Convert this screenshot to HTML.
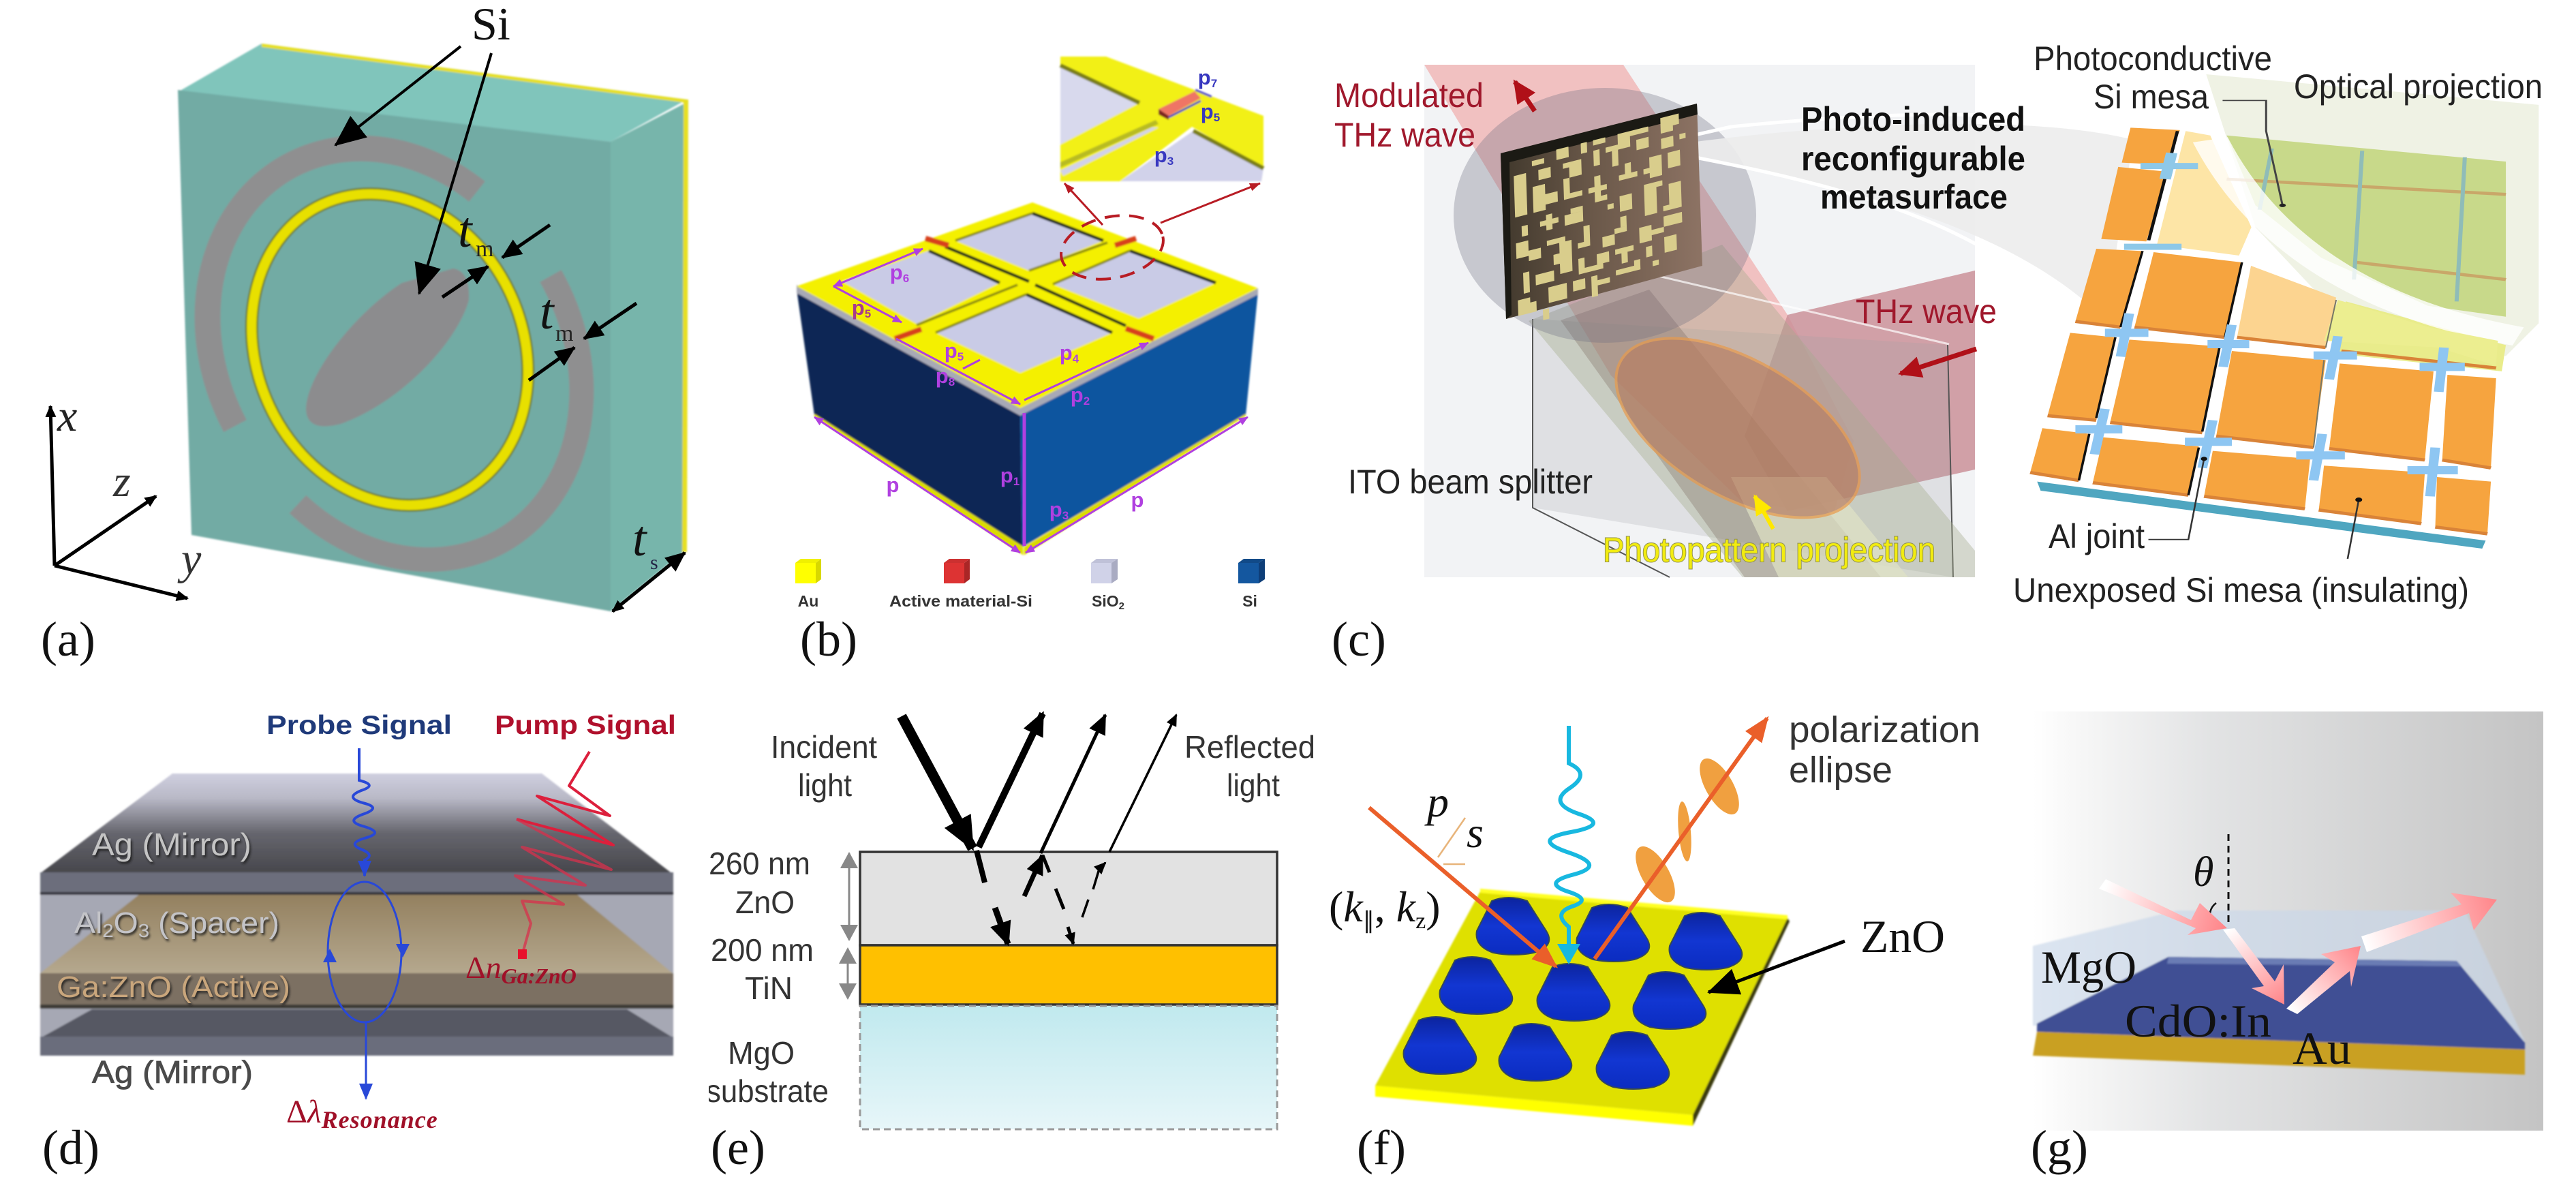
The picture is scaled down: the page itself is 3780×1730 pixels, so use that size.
<!DOCTYPE html>
<html><head><meta charset="utf-8"><style>
html,body{margin:0;padding:0;background:#fff;width:3780px;height:1730px;overflow:hidden}
svg{display:block}
text{font-family:"Liberation Sans",sans-serif}
.s{font-family:"Liberation Serif",serif}
.i{font-family:"Liberation Serif",serif;font-style:italic}
.b{font-weight:bold}
.lab{font-family:"Liberation Serif",serif;font-size:72px;fill:#111}
.pu{font-weight:bold;font-size:31px;fill:#b040e0}
</style></head><body>
<svg width="3780" height="1730" viewBox="0 0 3780 1730" xmlns="http://www.w3.org/2000/svg">
<defs>
<marker id="kL" markerUnits="userSpaceOnUse" markerWidth="46" markerHeight="40" viewBox="0 0 46 40" refX="44" refY="20" orient="auto"><path d="M0 0L46 20L0 40z" fill="#000"/></marker>
<marker id="kM" markerUnits="userSpaceOnUse" markerWidth="30" markerHeight="26" viewBox="0 0 30 26" refX="28" refY="13" orient="auto"><path d="M0 0L30 13L0 26z" fill="#000"/></marker>
<marker id="kS" markerUnits="userSpaceOnUse" markerWidth="18" markerHeight="16" viewBox="0 0 18 16" refX="16" refY="8" orient="auto"><path d="M0 0L18 8L0 16z" fill="#000"/></marker>
<marker id="kB" markerUnits="userSpaceOnUse" markerWidth="18" markerHeight="16" viewBox="0 0 18 16" refX="2" refY="8" orient="auto"><path d="M18 0L0 8L18 16z" fill="#000"/></marker>
<marker id="kE1" markerUnits="userSpaceOnUse" markerWidth="50" markerHeight="44" viewBox="0 0 50 44" refX="46" refY="22" orient="auto"><path d="M0 0L50 22L0 44z" fill="#000"/></marker>
<marker id="kE2" markerUnits="userSpaceOnUse" markerWidth="36" markerHeight="32" viewBox="0 0 36 32" refX="32" refY="16" orient="auto"><path d="M0 0L36 16L0 32z" fill="#000"/></marker>
<marker id="gr" markerUnits="userSpaceOnUse" markerWidth="24" markerHeight="26" viewBox="0 0 24 26" refX="22" refY="13" orient="auto"><path d="M0 0L24 13L0 26z" fill="#888"/></marker>
<marker id="pe" markerUnits="userSpaceOnUse" markerWidth="14" markerHeight="12" viewBox="0 0 14 12" refX="13" refY="6" orient="auto"><path d="M0 0L14 6L0 12z" fill="#b040e0"/></marker>
<marker id="pb" markerUnits="userSpaceOnUse" markerWidth="14" markerHeight="12" viewBox="0 0 14 12" refX="1" refY="6" orient="auto"><path d="M14 0L0 6L14 12z" fill="#b040e0"/></marker>
<marker id="re" markerUnits="userSpaceOnUse" markerWidth="16" markerHeight="12" viewBox="0 0 16 12" refX="15" refY="6" orient="auto"><path d="M0 0L16 6L0 12z" fill="#b81c24"/></marker>
<marker id="rb" markerUnits="userSpaceOnUse" markerWidth="34" markerHeight="32" viewBox="0 0 34 32" refX="30" refY="16" orient="auto"><path d="M0 0L34 16L0 32z" fill="#b01018"/></marker>
<marker id="ye" markerUnits="userSpaceOnUse" markerWidth="30" markerHeight="26" viewBox="0 0 30 26" refX="27" refY="13" orient="auto"><path d="M0 0L30 13L0 26z" fill="#ffe800"/></marker>
<marker id="bl" markerUnits="userSpaceOnUse" markerWidth="24" markerHeight="20" viewBox="0 0 24 20" refX="22" refY="10" orient="auto"><path d="M0 0L24 10L0 20z" fill="#2848d8"/></marker>
<marker id="or" markerUnits="userSpaceOnUse" markerWidth="38" markerHeight="30" viewBox="0 0 38 30" refX="34" refY="15" orient="auto"><path d="M0 0L38 15L0 30z" fill="#ea5f2a"/></marker>
<marker id="cy" markerUnits="userSpaceOnUse" markerWidth="30" markerHeight="34" viewBox="0 0 30 34" refX="26" refY="17" orient="auto"><path d="M0 0L30 17L0 34z" fill="#18b8e0"/></marker>
<linearGradient id="agT" x1="0" y1="0" x2="0" y2="1"><stop offset="0" stop-color="#cfcfdf"/><stop offset=".25" stop-color="#b8b8c6"/><stop offset=".6" stop-color="#66666e"/><stop offset="1" stop-color="#47474c"/></linearGradient>
<linearGradient id="tan" x1="0" y1="0" x2="0" y2="1"><stop offset="0" stop-color="#93805f"/><stop offset="1" stop-color="#b5a88e"/></linearGradient>
<linearGradient id="mgo" x1="0" y1="0" x2="0" y2="1"><stop offset="0" stop-color="#c0e9ee"/><stop offset="1" stop-color="#e7f6f9"/></linearGradient>
<linearGradient id="gbg" x1="0" y1="0" x2="1" y2="0"><stop offset="0" stop-color="#fff"/><stop offset=".1" stop-color="#f6f6f6"/><stop offset=".35" stop-color="#e2e3e4"/><stop offset="1" stop-color="#c4c4c4"/></linearGradient>
<linearGradient id="msb" x1="0" y1="0" x2="1" y2="0"><stop offset="0" stop-color="#40382c"/><stop offset=".45" stop-color="#6a5849"/><stop offset="1" stop-color="#8d7364"/></linearGradient>
<linearGradient id="pk1" gradientUnits="userSpaceOnUse" x1="3088" y1="1304" x2="3265" y2="1362"><stop offset="0" stop-color="#fff"/><stop offset="1" stop-color="#ff8589"/></linearGradient>
<linearGradient id="pk2" gradientUnits="userSpaceOnUse" x1="3270" y1="1364" x2="3352" y2="1472"><stop offset="0" stop-color="#fff"/><stop offset="1" stop-color="#ff8589"/></linearGradient>
<linearGradient id="pk3" gradientUnits="userSpaceOnUse" x1="3364" y1="1484" x2="3464" y2="1390"><stop offset="0" stop-color="#fff"/><stop offset="1" stop-color="#ff8589"/></linearGradient>
<linearGradient id="pk4" gradientUnits="userSpaceOnUse" x1="3470" y1="1385" x2="3664" y2="1320"><stop offset="0" stop-color="#fff"/><stop offset="1" stop-color="#ff8589"/></linearGradient>
<linearGradient id="drop" x1="0" y1="0" x2="0" y2="1"><stop offset="0" stop-color="#0c249e"/><stop offset=".5" stop-color="#1236d2"/><stop offset="1" stop-color="#0b2cc0"/></linearGradient>
<filter id="b1" x="-5%" y="-5%" width="110%" height="110%"><feGaussianBlur stdDeviation="1.2"/></filter>
<filter id="sh" x="-5%" y="-20%" width="110%" height="140%"><feDropShadow dx="2" dy="3" stdDeviation="1.5" flood-color="#1a1a1a" flood-opacity=".9"/></filter>
<path id="drp" d="M-32-36Q-8-46 20-36L48 8Q62 30 30 40Q0 46-30 40Q-58 30-54 8z" stroke="#33485a" stroke-width="2"/>
</defs>

<!-- (a) -->
<g filter="url(#b1)">
<path d="M261 135L384 64L1008 146L896 208z" fill="#80c5bb"/>
<path d="M261 132L896 208L896 897L281 785z" fill="#72aba4"/>
<path d="M896 208L1008 150L1005 808L896 897z" fill="#77b5ab"/>
<path d="M384 64L1008 146L1008 151L384 69z" fill="#e6df20"/>
<path d="M1003 146H1010L1008 810H1001z" fill="#e6df20"/>
<path d="M345 625A252 302 -28.6 0 1 700 281" fill="none" stroke="#8f8f90" stroke-width="38"/>
<path d="M808 405A252 302 -28.6 0 1 437 740" fill="none" stroke="#8f8f90" stroke-width="36"/>
<path d="M590 415L665 394Q690 398 688 440C672 500 590 590 500 622Q450 635 449 600C450 550 520 460 590 415Z" fill="#8c8c8e"/>
<ellipse cx="572" cy="513" rx="195" ry="235" transform="rotate(-25 572 513)" fill="none" stroke="#6d7b1f" stroke-width="19"/>
<ellipse cx="572" cy="513" rx="195" ry="235" transform="rotate(-25 572 513)" fill="none" stroke="#e8e000" stroke-width="14"/>
</g>
<g fill="none" stroke="#000">
<line x1="676" y1="68" x2="492" y2="213" stroke-width="4" marker-end="url(#kL)"/>
<line x1="721" y1="78" x2="615" y2="431" stroke-width="4" marker-end="url(#kL)"/>
<line x1="807" y1="330" x2="737" y2="378" stroke-width="5" marker-end="url(#kM)"/>
<line x1="649" y1="436" x2="716" y2="391" stroke-width="5" marker-end="url(#kM)"/>
<line x1="934" y1="445" x2="857" y2="497" stroke-width="5" marker-end="url(#kM)"/>
<line x1="776" y1="558" x2="843" y2="510" stroke-width="5" marker-end="url(#kM)"/>
<line x1="899" y1="897" x2="1005" y2="811" stroke-width="5" marker-end="url(#kM)" marker-start="url(#kB)"/>
<line x1="80" y1="830" x2="74" y2="596" stroke-width="5" marker-end="url(#kS)"/>
<line x1="80" y1="830" x2="229" y2="728" stroke-width="5" marker-end="url(#kS)"/>
<line x1="80" y1="830" x2="275" y2="878" stroke-width="5" marker-end="url(#kS)"/>
</g>
<text class="s" x="692" y="58" font-size="68" fill="#111">Si</text>
<text class="i" x="84" y="632" font-size="66" fill="#222">x</text>
<text class="i" x="166" y="728" font-size="66" fill="#333">z</text>
<text class="i" x="266" y="842" font-size="66" fill="#333">y</text>
<text class="i" x="672" y="362" font-size="74" fill="#111">t</text><text class="s" x="698" y="376" font-size="34" fill="#222">m</text>
<text class="i" x="792" y="482" font-size="74" fill="#111">t</text><text class="s" x="815" y="500" font-size="34" fill="#222">m</text>
<text class="i" x="928" y="815" font-size="74" fill="#111">t</text><text class="s" x="954" y="835" font-size="30" fill="#224">s</text>
<text class="lab" x="60" y="962">(a)</text>

<!-- (b) -->
<g filter="url(#b1)">
<path d="M1169 425L1497 606L1500 803L1195 609z" fill="#0c2754"/>
<path d="M1497 606L1846 428L1828 609L1500 803z" fill="#0f559f"/>
<path d="M1169 418L1497 597L1846 423L1846 432L1497 610L1169 430z" fill="#a7a9b6"/>
<path d="M1169 420L1515 297L1846 423L1497 599z" fill="#f4f000"/>
<path d="M1195 609L1500 803L1500 812zM1828 609L1504 803L1504 812z" fill="#d8d800" stroke="#e0e000" stroke-width="3"/>
<g fill="#c9cbe6"><path d="M1373 488L1506 432L1632 488L1497 547z"/><path d="M1236 413L1363 368L1467 415L1345 475z"/><path d="M1402 353L1515 313L1619 353L1510 397z"/><path d="M1545 417L1658 368L1784 415L1671 467z"/></g>
<g stroke="#1c2a18" stroke-width="4.500" fill="none"><path d="M1387 362L1510 413"/><path d="M1515 313L1619 353"/><path d="M1506 432L1632 488"/><path d="M1519 418L1652 478"/><path d="M1658 368L1784 415"/><path d="M1363 368L1467 415"/></g>
<g stroke="#8a8a10" stroke-width="3.500" fill="none"><path d="M1373 488L1506 432"/><path d="M1402 353L1515 313"/><path d="M1545 417L1658 368"/><path d="M1345 477L1493 418"/><path d="M1510 397L1625 356"/></g>
<g stroke="#d8401c" stroke-width="8"><path d="M1358 350L1392 360"/><path d="M1636 360L1667 350"/><path d="M1313 497L1352 483"/><path d="M1652 482L1693 497"/></g>
<path d="M1556 83L1623 83L1854 170L1854 247L1749 186L1644 266L1556 266z" fill="#f2f016"/>
<path d="M1556 96L1672 151L1556 212z" fill="#d8d9ed"/>
<path d="M1751 192L1854 247L1851 266L1644 266z" fill="#d1d2ea"/>
<path d="M1556 244L1696 180L1745 185L1619 262L1556 262z" fill="#f2f016"/>
<path d="M1556 238L1696 176L1700 182L1556 246z" fill="#b8bb20"/>
<path d="M1556 250L1690 187L1700 187L1560 258z" fill="#d1d2ea"/>
<path d="M1556 96L1672 151M1751 192L1854 247" stroke="#7c7f14" stroke-width="6"/>
<path d="M1700 160L1753 134L1762 144L1715 170z" fill="#ef7565"/><path d="M1700 160L1715 170L1715 176L1700 168z" fill="#7a2020"/>
<path d="M1754 132L1778 142M1715 172L1762 148" stroke="#3830c8" stroke-width="3"/>
</g>
<ellipse cx="1632" cy="363" rx="76" ry="45" transform="rotate(-12 1632 363)" fill="none" stroke="#b81c24" stroke-width="4" stroke-dasharray="22 14"/>
<line x1="1618" y1="330" x2="1562" y2="269" stroke="#b81c24" stroke-width="3" marker-end="url(#re)"/>
<line x1="1703" y1="327" x2="1849" y2="269" stroke="#b81c24" stroke-width="3" marker-end="url(#re)"/>
<g stroke="#b040e0" stroke-width="3" fill="none">
<path d="M1315 497L1497 593" marker-end="url(#pe)"/><path d="M1503 587L1685 503" marker-end="url(#pe)"/>
<path d="M1503 606V801" stroke-width="5"/>
<path d="M1195 612L1497 811" marker-start="url(#pb)" marker-end="url(#pe)"/><path d="M1505 811L1831 612" marker-start="url(#pb)" marker-end="url(#pe)"/>
<path d="M1223 420L1354 365" marker-start="url(#pb)" marker-end="url(#pe)"/><path d="M1223 420L1323 473" marker-end="url(#pe)"/>
<path d="M1413 541L1438 528"/>
</g>
<g text-anchor="middle">
<text x="1310" y="722" class="pu">p</text><text x="1669" y="744" class="pu">p</text>
<text x="1482" y="708" class="pu">p<tspan font-size="17" dy="4">1</tspan></text>
<text x="1569" y="528" class="pu">p<tspan font-size="17" dy="4">4</tspan></text>
<text x="1400" y="525" class="pu">p<tspan font-size="17" dy="4">5</tspan></text>
<text x="1387" y="562" class="pu">p<tspan font-size="17" dy="4">8</tspan></text>
<text x="1585" y="590" class="pu">p<tspan font-size="17" dy="4">2</tspan></text>
<text x="1320" y="410" class="pu">p<tspan font-size="17" dy="4">6</tspan></text>
<text x="1264" y="462" style="fill:#a83c8c" class="pu">p<tspan font-size="17" dy="4">5</tspan></text>
<text x="1554" y="758" class="pu">p<tspan font-size="17" dy="4">3</tspan></text>
</g>
<g font-size="31" font-weight="bold" fill="#3838c0" text-anchor="middle">
<text x="1772" y="124">p<tspan font-size="17" dy="4">7</tspan></text>
<text x="1776" y="174">p<tspan font-size="17" dy="4">5</tspan></text>
<text x="1708" y="238">p<tspan font-size="17" dy="4">3</tspan></text>
</g>
<path d="M1167 826H1197V856H1167z" fill="#ffff00"/><path d="M1197 826L1205 820V850L1197 856z" fill="#d8d800"/><path d="M1167 826L1175 820H1205L1197 826z" fill="#f0f000"/>
<path d="M1385 826H1415V856H1385z" fill="#dd3333"/><path d="M1415 826L1423 820V850L1415 856z" fill="#aa2626"/><path d="M1385 826L1393 820H1423L1415 826z" fill="#cc3030"/>
<path d="M1601 826H1631V856H1601z" fill="#d0d2e8"/><path d="M1631 826L1640 820V850L1631 856z" fill="#a9abc2"/><path d="M1601 826L1609 820H1640L1631 826z" fill="#bfc1d8"/>
<path d="M1817 826H1847V856H1817z" fill="#14579f"/><path d="M1847 826L1856 820V850L1847 856z" fill="#0e3e78"/><path d="M1817 826L1825 820H1856L1847 826z" fill="#114a88"/>
<g font-size="23" font-weight="bold" fill="#333" text-anchor="middle">
<text x="1186" y="890">Au</text><text x="1410" y="890" textLength="210" lengthAdjust="spacingAndGlyphs">Active material-Si</text>
<text x="1626" y="890">SiO<tspan font-size="15" dy="4">2</tspan></text><text x="1834" y="890">Si</text></g>
<text class="lab" x="1174" y="962">(b)</text>

<!-- (c) left -->
<path d="M2090 95H2898V847H2090z" fill="#f2f3f5"/>
<path d="M2090 95H2382L2623 462L2720 647L2692 750L2560 740L2364 551z" fill="#f0b4b4" opacity=".8"/>
<path d="M2898 397L2623 462L2560 640L2623 750L2898 689z" fill="#cb9199" opacity=".85"/>
<path d="M2249 468L2858 506L2866 847L2249 745z" fill="#9d9ea2" opacity=".22"/>
<path d="M2249 468L2249 745L2450 847M2858 506L2866 847" fill="none" stroke="#555" stroke-width="2"/>
<path d="M2243 471L2527 359L2898 808V847H2557z" fill="#a4ab8c" opacity=".38"/>
<path d="M2290 470L2420 425L2760 847H2560z" fill="#6e5a50" opacity=".28"/>
<path d="M2540 700L2680 700L2800 847H2610z" fill="#dfe2c4" opacity=".7"/>
<ellipse cx="2355" cy="316" rx="222" ry="187" fill="#6e6e80" opacity=".32"/>
<ellipse cx="2550" cy="628" rx="198" ry="100" transform="rotate(30 2550 628)" fill="#b77e62" opacity=".7" stroke="#e99a4b" stroke-width="4"/>
<path d="M2440 215C2600 190 2950 160 3130 205L3090 470C2950 330 2700 270 2440 222z" fill="#ececec" opacity=".9"/>
<path d="M2440 222C2700 270 2950 330 3060 500M2412 215L2540 186C2800 160 3000 160 3130 200" fill="none" stroke="#fff" stroke-width="5"/>
<path d="M2237 359L2860 505" stroke="#fff" stroke-width="3" opacity=".7"/>
<g>
<path d="M2202 225L2490 152L2498 390L2210 468z" fill="url(#msb)"/>
<path d="M2202 225L2490 152L2491 168L2215 238L2218 462L2210 468z" fill="#1b1a14"/>
<g transform="matrix(9,-2.28,.25,7.6,2202,225)" fill="#d9cd8c">
<path d="M2 5h2v8h-2zM5 3h2v1h-2zM9 2h2v2h-2zM13 2h1v2h-1zM15 2h2v1h-2zM19 2h2v3h-2zM21 2h3v1h-3zM26 1h2v3h-2zM28 1h1v2h-1zM6 5h2v2h-2zM10 5h3v1h-3zM11 6h2v2h-2zM15 4h1v3h-1zM17 4h2v1h-2zM18 5h1v3h-1zM22 4h2v2h-2zM26 5h2v2h-2zM29 5h1v1h-1zM5 8h2v5h-2zM7 10h2v2h-2zM10 8h1v4h-1zM11 11h2v1h-2zM15 9h1v5h-1zM14 11h3v1h-3zM20 8h1v3h-1zM19 10h3v1h-3zM24 8h2v4h-2zM23 10h1v1h-1zM27 8h2v3h-2zM3 15h1v2h-1zM7 14h1v3h-1zM6 15h3v1h-3zM11 14h2v1h-2zM10 15h3v2h-3zM17 15h1v1h-1zM16 13h1v1h-1zM19 14h2v3h-2zM23 13h2v6h-2zM25 13h1v1h-1zM27 14h2v5h-2zM26 18h2v1h-2zM2 18h2v3h-2zM4 20h2v2h-2zM7 19h3v1h-3zM9 20h2v6h-2zM8 22h1v2h-1zM13 18h1v3h-1zM12 21h2v1h-2zM16 21h2v2h-2zM18 20h2v1h-2zM19 18h1v2h-1zM22 21h2v3h-2zM24 22h2v1h-2zM26 20h3v2h-3zM3 24h1v4h-1zM5 25h3v2h-3zM12 24h1v3h-1zM13 26h3v1h-3zM15 24h2v2h-2zM18 24h3v1h-3zM19 25h1v2h-1zM23 25h1v2h-1zM26 24h2v3h-2zM2 29h2v3h-2zM4 30h1v2h-1zM7 28h3v3h-3zM11 28h2v2h-2zM14 28h1v4h-1zM15 29h2v1h-2zM18 28h3v1h-3zM21 27h1v2h-1zM24 28h1v1h-1zM6 32h1v2h-1z"/>
</g></g>
<line x1="2252" y1="163" x2="2223" y2="120" stroke="#b01018" stroke-width="7" marker-end="url(#rb)"/>
<line x1="2900" y1="512" x2="2789" y2="548" stroke="#b01018" stroke-width="7" marker-end="url(#rb)"/>
<line x1="2602" y1="776" x2="2575" y2="728" stroke="#ffe800" stroke-width="6" marker-end="url(#ye)"/>
<!-- (c) right upper -->
<g transform="translate(1900,0) scale(1.2048,.641)">
<path d="M1110 170L1515 240V740L1475 815L1300 780L1170 520z" fill="#eff2e4"/>
<path d="M1135 310L1475 370L1475 725L1380 700L1250 590L1170 470z" fill="#c8d98a"/>
<path d="M1280 690L1475 790L1470 850L1270 810z" fill="#e9ec8b"/>
<g fill="#f6a43f" stroke="#f6a43f" stroke-width="5">
<path d="M1020 295L1075 300L1060 375L1010 370z"/><path d="M1005 385L1060 395L1035 550L985 545z"/>
</g>
<path d="M1085 300L1115 310L1165 520L1150 585L1050 560z" fill="#fde5a6"/>
<path d="M1075 300L1040 550" fill="none" stroke="#111" stroke-width="4"/>
<path d="M1135 410L1475 445M1290 600L1475 640" stroke="#c99a60" stroke-width="7" fill="none" opacity=".8"/>
<path d="M1300 345L1290 640M1425 360L1415 690M1190 340L1175 480" stroke="#8fbcb8" stroke-width="5" fill="none"/>
<path d="M1030 380H1100M1068 350L1060 410M1010 565H1080" stroke="#8ec8e8" stroke-width="14" fill="none"/>
<path d="M1115 320C1170 520 1280 700 1490 770" fill="none" stroke="#fff" stroke-width="44" opacity=".8"/>
<g stroke="#444" stroke-width="2.500" fill="none"><path d="M1130 230H1183V300L1203 470"/></g>
<circle cx="1203" cy="470" r="4" fill="#222"/>
</g>
<!-- (c) right lower -->
<g transform="translate(2900,400) scale(.5102,.3333)">
<path d="M175 920L1465 1180L1455 1215L185 960z" fill="#4fa6c0"/>
<g fill="#f6a43f">
<path d="M345-105L478-95L415 240L285 215z"/><path d="M510-90L764-45L715 285L455 240z"/>
<path d="M270 265L400 285L345 650L205 630z"/><path d="M440 295L700 325L650 705L385 660z"/>
<path d="M735 345L1005 385L970 770L690 720z"/><path d="M1045 400L1315 435L1290 825L1015 775z"/>
<path d="M1355 450L1495 465L1480 860L1340 825z"/>
<path d="M190 685L325 710L295 915L155 880z"/><path d="M365 725L640 765L610 980L335 925z"/>
<path d="M680 785L960 820L945 1040L655 985z"/><path d="M1000 850L1290 880L1280 1105L985 1045z"/>
<path d="M1325 900L1480 920L1470 1150L1320 1120z"/>
</g>
<path d="M790-30L1035 110L1005 330L750 285z" fill="#fcd490"/>
<path d="M1040 120L1000 300L1330 330L1495 410L1500 300L1300 240z" fill="#ecee90"/>
<g fill="none" stroke="#d98338" stroke-width="14">
<path d="M285 215L415 240M455 240L715 285M750 285L1005 330M1050 345L1495 420M205 630L345 650M385 660L650 705M690 720L970 770M1015 775L1290 825M1340 825L1480 860M155 880L295 915M335 925L610 980M655 985L945 1040M985 1045L1280 1105M1320 1120L1470 1150"/>
</g>
<g stroke="#111" stroke-width="7" fill="none"><path d="M478-95L415 240M764-45L715 285M400 285L345 640M700 325L650 700M325 710L295 915M640 770L610 980"/></g>
<path d="M1035 120L1005 330M1000 385L970 770" stroke="#776" stroke-width="4" fill="none"/>
<g stroke="#8ec6f2" fill="none">
<path d="M370 265H495M665 315H785M970 365H1095M1275 415H1405M285 690H420M600 745H735M920 805H1060M1240 870H1385" stroke-width="36"/>
<path d="M440 180L415 370M735 230L710 415M1040 280L1015 470M1345 330L1330 525M370 600L340 800M680 650L650 860M995 710L970 915M1320 770L1305 985" stroke-width="28"/>
</g>
<g stroke="#333" stroke-width="5" fill="none"><path d="M495 1175H610L655 820"/><path d="M1068 1260L1100 1000"/></g>
<circle cx="655" cy="820" r="9" fill="#111"/><circle cx="1100" cy="1000" r="10" fill="#111"/>
</g>
<g font-size="50">
<text x="1958" y="157" fill="#a0182c" textLength="219" lengthAdjust="spacingAndGlyphs">Modulated</text>
<text x="1958" y="215" fill="#a0182c" textLength="207" lengthAdjust="spacingAndGlyphs">THz wave</text>
<text x="2723" y="474" fill="#a0182c" textLength="207" lengthAdjust="spacingAndGlyphs">THz wave</text>
<text x="2643" y="192" class="b" fill="#111" textLength="329" lengthAdjust="spacingAndGlyphs">Photo-induced</text>
<text x="2643" y="250" class="b" fill="#111" textLength="329" lengthAdjust="spacingAndGlyphs">reconfigurable</text>
<text x="2671" y="306" class="b" fill="#111" textLength="275" lengthAdjust="spacingAndGlyphs">metasurface</text>
<text x="2984" y="103" fill="#222" textLength="350" lengthAdjust="spacingAndGlyphs">Photoconductive</text>
<text x="3072" y="159" fill="#222" textLength="169" lengthAdjust="spacingAndGlyphs">Si mesa</text>
<text x="3366" y="144" fill="#222" textLength="365" lengthAdjust="spacingAndGlyphs">Optical projection</text>
<text x="1978" y="724" fill="#222" textLength="359" lengthAdjust="spacingAndGlyphs">ITO beam splitter</text>
<text x="2352" y="824" fill="#f2ec10" textLength="488" lengthAdjust="spacingAndGlyphs" style="paint-order:stroke" stroke="#8f8f50" stroke-width="2">Photopattern projection</text>
<text x="3006" y="804" fill="#222" textLength="141" lengthAdjust="spacingAndGlyphs">Al joint</text>
<text x="2954" y="883" fill="#222" textLength="669" lengthAdjust="spacingAndGlyphs">Unexposed Si mesa (insulating)</text>
</g>
<text class="lab" x="1954" y="962">(c)</text>

<!-- (d) -->
<g filter="url(#b1)">
<path d="M59 1312H988V1549H59z" fill="#a6a8b4"/>
<path d="M205 1312H846L987 1428H59z" fill="url(#tan)"/>
<path d="M59 1428H988V1477H59z" fill="#7b7062"/>
<path d="M59 1474H988V1480H59z" fill="#3d3a36"/>
<path d="M253 1135H795L984 1280H61z" fill="url(#agT)"/>
<path d="M59 1280H988V1312H59z" fill="#6c6e7c"/><path d="M59 1309H988V1313H59z" fill="#33333a"/>
<path d="M63 1521L135 1481H920L985 1521z" fill="#575964"/>
<path d="M59 1521H988V1549H59z" fill="#6b6d7c"/>
</g>
<g fill="none">
<path d="M527 1098V1145Q555 1152 530 1160Q505 1170 532 1178Q562 1185 532 1195Q505 1205 535 1213Q565 1222 535 1230Q508 1238 532 1247Q550 1255 535 1262V1285" stroke="#2848d8" stroke-width="4" marker-end="url(#bl)"/>
<ellipse cx="535" cy="1397" rx="54" ry="103" stroke="#2848d8" stroke-width="3"/>
<line x1="537" y1="1500" x2="537" y2="1612" stroke="#2848d8" stroke-width="3" marker-end="url(#bl)"/>
<polyline points="865,1103 835,1153 895,1197 788,1168 900,1240 758,1202" stroke="#dc1f3c" stroke-width="4" stroke-linejoin="round"/>
<polyline points="758,1202 897,1276 766,1243 859,1299 756,1285 827,1327 766,1322 779,1355 766,1402" stroke="#d8304c" stroke-width="4" stroke-linejoin="round" opacity=".75"/>
</g>
<path d="M484 1392L474 1412H494zM591 1405L581 1385H601z" fill="#2848d8"/>
<rect x="760" y="1393" width="13" height="14" fill="#e8102c"/>
<text x="391" y="1077" font-size="39" class="b" fill="#1f3a7a" textLength="272" lengthAdjust="spacingAndGlyphs">Probe Signal</text>
<text x="726" y="1077" font-size="39" class="b" fill="#b0102c" textLength="266" lengthAdjust="spacingAndGlyphs">Pump Signal</text>
<text x="135" y="1255" font-size="46" fill="#c4c4c4" filter="url(#sh)" textLength="234" lengthAdjust="spacingAndGlyphs">Ag (Mirror)</text>
<text x="109" y="1369" font-size="44" fill="#c4c4c8" filter="url(#sh)" textLength="301" lengthAdjust="spacingAndGlyphs">Al<tspan font-size="28" dy="6">2</tspan><tspan dy="-6">O</tspan><tspan font-size="28" dy="6">3</tspan><tspan dy="-6"> (Spacer)</tspan></text>
<text x="83" y="1463" font-size="44" fill="#c9a67c" filter="url(#sh)" textLength="343" lengthAdjust="spacingAndGlyphs">Ga:ZnO (Active)</text>
<text x="135" y="1589" font-size="46" fill="#4a4a4a" stroke="#4a4a4a" stroke-width=".8" textLength="236" lengthAdjust="spacingAndGlyphs">Ag (Mirror)</text>
<text x="683" y="1435" class="s" font-size="46" fill="#a01028">Δ<tspan class="i">n</tspan><tspan class="i" font-size="32" dy="8" font-weight="bold">Ga:ZnO</tspan></text>
<text x="420" y="1647" class="s" font-size="48" fill="#a01028">Δ<tspan class="i">λ</tspan><tspan class="i" font-size="36" dy="8" font-weight="bold" letter-spacing="1">Resonance</tspan></text>
<text class="lab" x="62" y="1708">(d)</text>

<!-- (e) -->
<rect x="1262" y="1250" width="612" height="137" fill="#e2e2e2" stroke="#333" stroke-width="3.500"/>
<rect x="1262" y="1387" width="612" height="87" fill="#ffc000" stroke="#333" stroke-width="3.500"/>
<rect x="1262" y="1476" width="612" height="181" fill="url(#mgo)" stroke="#999" stroke-width="3" stroke-dasharray="10 6"/>
<g fill="none" stroke="#000">
<line x1="1323" y1="1051" x2="1427" y2="1245" stroke-width="15" marker-end="url(#kE1)"/>
<line x1="1433" y1="1248" x2="1445" y2="1295" stroke-width="8"/>
<line x1="1460" y1="1332" x2="1479" y2="1385" stroke-width="9" marker-end="url(#kE2)"/>
<line x1="1436" y1="1243" x2="1530" y2="1047" stroke-width="10" marker-end="url(#kE2)"/>
<line x1="1503" y1="1315" x2="1530" y2="1255" stroke-width="7" marker-end="url(#kM)"/>
<line x1="1527" y1="1252" x2="1622" y2="1049" stroke-width="5" marker-end="url(#kM)"/>
<path d="M1530 1255L1540 1280M1549 1304L1561 1334" stroke-width="5"/>
<line x1="1567" y1="1360" x2="1575" y2="1385" stroke-width="5" marker-end="url(#kS)"/>
<path d="M1588 1346L1597 1320M1604 1305L1613 1275" stroke-width="3.500"/>
<line x1="1613" y1="1275" x2="1622" y2="1266" stroke-width="3.500" marker-end="url(#kS)"/>
<line x1="1628" y1="1250" x2="1726" y2="1049" stroke-width="3.500" marker-end="url(#kS)"/>
<g stroke="#888" stroke-width="3"><line x1="1246" y1="1265" x2="1246" y2="1252" marker-end="url(#gr)"/><line x1="1246" y1="1252" x2="1246" y2="1379" marker-end="url(#gr)"/><line x1="1244" y1="1405" x2="1244" y2="1392" marker-end="url(#gr)"/><line x1="1244" y1="1392" x2="1244" y2="1465" marker-end="url(#gr)"/></g>
</g>
<g font-size="46" fill="#333">
<text x="1131" y="1112" textLength="156" lengthAdjust="spacingAndGlyphs">Incident</text>
<text x="1171" y="1168" textLength="79" lengthAdjust="spacingAndGlyphs">light</text>
<text x="1738" y="1112" textLength="192" lengthAdjust="spacingAndGlyphs">Reflected</text>
<text x="1800" y="1168" textLength="78" lengthAdjust="spacingAndGlyphs">light</text>
<text x="1040" y="1283" textLength="149" lengthAdjust="spacingAndGlyphs">260 nm</text>
<text x="1079" y="1340" textLength="87" lengthAdjust="spacingAndGlyphs">ZnO</text>
<text x="1043" y="1410" textLength="151" lengthAdjust="spacingAndGlyphs">200 nm</text>
<text x="1093" y="1466" textLength="70" lengthAdjust="spacingAndGlyphs">TiN</text>
<text x="1068" y="1561" textLength="98" lengthAdjust="spacingAndGlyphs">MgO</text>
<text x="1036" y="1617" textLength="180" lengthAdjust="spacingAndGlyphs">substrate</text>
</g>
<rect x="1020" y="1580" width="20" height="50" fill="#fff"/>
<text class="lab" x="1043" y="1708">(e)</text>

<!-- (f) -->
<g filter="url(#b1)">
<path d="M2018 1593L2484 1636L2484 1652L2018 1609z" fill="#ffff00"/>
<path d="M2623 1347L2484 1636L2484 1652L2626 1352z" fill="#3a3a10"/>
<path d="M2172 1308L2623 1347L2484 1636L2018 1593z" fill="#dfe000"/>
<path d="M2172 1304L2623 1343V1349L2172 1310z" fill="#ffff20"/>
</g>
<g fill="url(#drop)">
<use href="#drp" x="2221" y="1358"/><use href="#drp" x="2368" y="1368"/><use href="#drp" x="2504" y="1380"/>
<use href="#drp" x="2167" y="1445"/><use href="#drp" x="2310" y="1455"/><use href="#drp" x="2451" y="1467"/>
<use href="#drp" x="2114" y="1533"/><use href="#drp" x="2254" y="1543"/><use href="#drp" x="2397" y="1555"/>
</g>
<path d="M2302 1065V1120Q2335 1135 2304 1156Q2270 1178 2316 1194Q2365 1210 2305 1221Q2245 1232 2302 1251Q2358 1270 2310 1283Q2262 1295 2300 1308Q2338 1320 2307 1330Q2278 1340 2302 1360V1411" fill="none" stroke="#18b8e0" stroke-width="6" marker-end="url(#cy)"/>
<ellipse cx="2429" cy="1283" rx="46" ry="20" transform="rotate(60 2429 1283)" fill="#f0a040"/>
<ellipse cx="2472" cy="1220" rx="44" ry="9" transform="rotate(85 2472 1220)" fill="#f0a040"/>
<ellipse cx="2523" cy="1154" rx="46" ry="20" transform="rotate(60 2523 1154)" fill="#f0a040"/>
<line x1="2009" y1="1185" x2="2283" y2="1418" stroke="#ea5f2a" stroke-width="6" marker-end="url(#or)"/>
<line x1="2340" y1="1407" x2="2593" y2="1054" stroke="#ea5f2a" stroke-width="6" marker-end="url(#or)"/>
<path d="M2110 1258L2150 1200M2118 1268H2150" stroke="#e8b47a" stroke-width="2.500" fill="none"/>
<line x1="2707" y1="1381" x2="2507" y2="1456" stroke="#000" stroke-width="5" marker-end="url(#kL)"/>
<text x="2625" y="1089" font-size="54" fill="#333" textLength="281" lengthAdjust="spacingAndGlyphs">polarization</text>
<text x="2625" y="1148" font-size="54" fill="#333" textLength="152" lengthAdjust="spacingAndGlyphs">ellipse</text>
<text class="i" x="2094" y="1198" font-size="64" fill="#111">p</text>
<text class="i" x="2152" y="1243" font-size="64" fill="#111">s</text>
<text class="s" x="1950" y="1352" font-size="64" fill="#111">(<tspan class="i">k</tspan><tspan font-size="34" dy="10">∥</tspan><tspan dy="-10">,</tspan> <tspan class="i">k</tspan><tspan font-size="34" dy="10">z</tspan><tspan dy="-10">)</tspan></text>
<text class="s" x="2730" y="1397" font-size="68" fill="#111" textLength="124" lengthAdjust="spacingAndGlyphs">ZnO</text>
<text class="lab" x="1991" y="1708">(f)</text>

<!-- (g) -->
<rect x="2983" y="1044" width="749" height="615" fill="url(#gbg)"/>
<g filter="url(#b1)">
<path d="M2983 1388L3194 1336H3617L3705 1528L2983 1505z" fill="#cad7ea" opacity=".65"/>
<path d="M3182 1404L3605 1410L3705 1530V1540L2989 1514V1502z" fill="#3f4f94"/>
<path d="M3182 1404L3605 1410L3612 1418L3180 1414z" fill="#6a7cb4"/>
<path d="M2989 1514L3705 1540V1577L2983 1549z" fill="#c9a022"/>
</g>
<path d="M3270 1224V1360" stroke="#111" stroke-width="3" stroke-dasharray="10 7" fill="none"/>
<path d="M3252 1325Q3238 1335 3245 1358" fill="none" stroke="#111" stroke-width="2.500"/>
<path d="M3090 1290L3215 1350L3228 1325L3268 1362L3210 1372L3222 1362L3080 1304z" fill="url(#pk1)"/>
<path d="M3262 1364L3279 1362L3338 1440L3351 1415L3352 1474L3304 1450L3322 1447z" fill="url(#pk2)"/>
<path d="M3355 1480L3371 1488L3448 1425L3450 1448L3464 1388L3406 1400L3426 1412z" fill="url(#pk3)"/>
<path d="M3465 1374L3473 1397L3623 1340L3630 1365L3664 1320L3596 1310L3612 1327z" fill="url(#pk4)"/>
<text class="i" x="3218" y="1300" font-size="62" fill="#111">θ</text>
<text class="s" x="2995" y="1442" font-size="68" fill="#111" textLength="140" lengthAdjust="spacingAndGlyphs">MgO</text>
<text class="s" x="3118" y="1521" font-size="68" fill="#111" textLength="215" lengthAdjust="spacingAndGlyphs">CdO:In</text>
<text class="s" x="3364" y="1561" font-size="68" fill="#111" textLength="86" lengthAdjust="spacingAndGlyphs">Au</text>
<text class="lab" x="2980" y="1708">(g)</text>
</svg>
</body></html>
